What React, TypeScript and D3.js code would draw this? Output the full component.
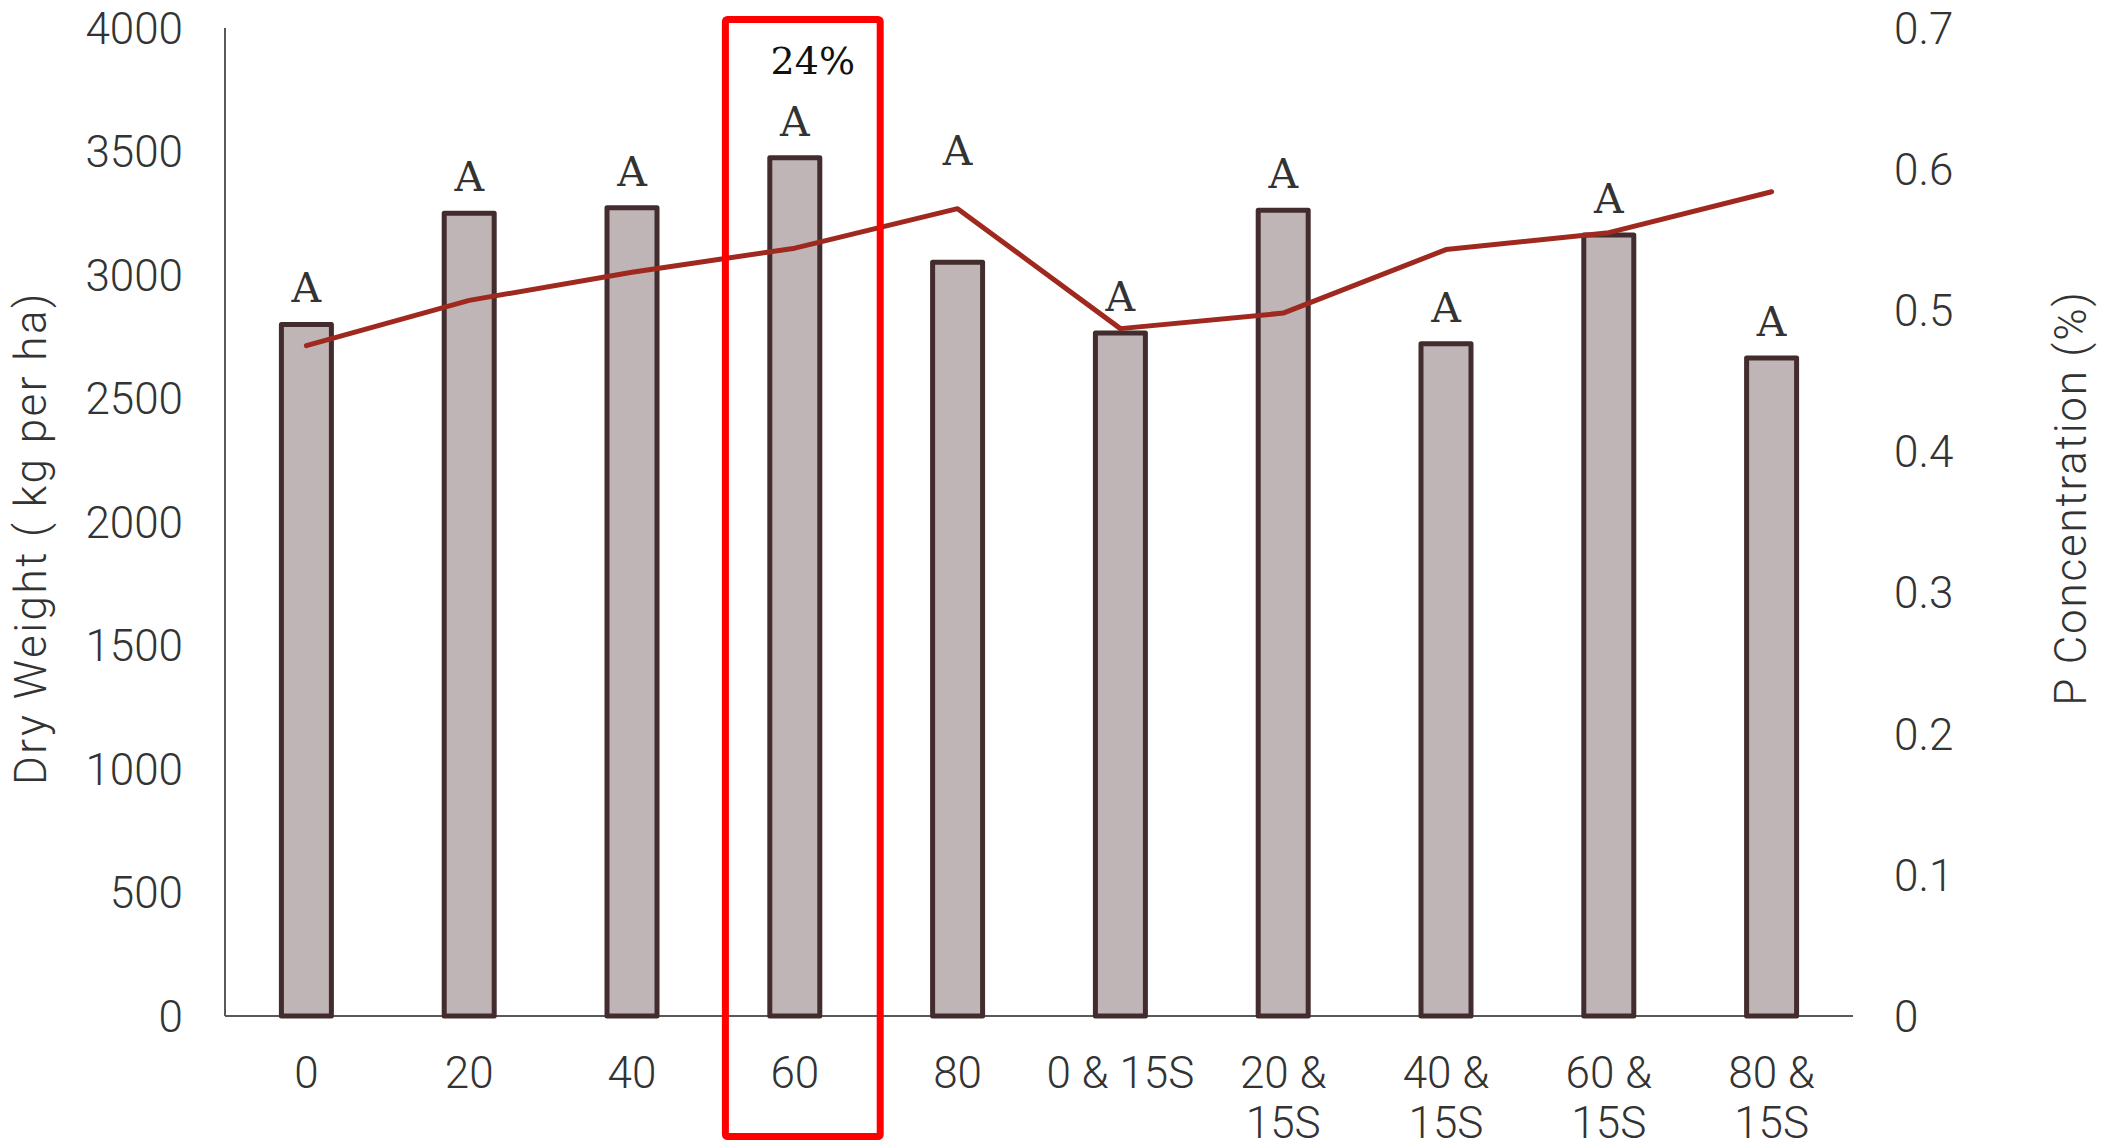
import React from "react";
import * as d3 from "d3";

// Treatments (kg P per ha, with/without 15 kg S)
const categories: string[][] = [
  ["0"], ["20"], ["40"], ["60"], ["80"],
  ["0 & 15S"], ["20 &", "15S"], ["40 &", "15S"], ["60 &", "15S"], ["80 &", "15S"],
];
const categoryKeys = categories.map((c) => c.join(" "));

// Dry weight (kg per ha), bars on the left axis
const dryWeight = [2800, 3250, 3272, 3475, 3052, 2765, 3262, 2722, 3162, 2664];

// P concentration (%), line on the right axis
const pConcentration = [0.475, 0.507, 0.527, 0.544, 0.572, 0.487, 0.498, 0.543, 0.555, 0.584];

// Significance letters and the value each letter sits above
const letters = ["A", "A", "A", "A", "A", "A", "A", "A", "A", "A"];
const letterAnchor = [2800, 3250, 3272, 3475, 3356, 2765, 3262, 2722, 3162, 2664];

const leftTicks = [0, 500, 1000, 1500, 2000, 2500, 3000, 3500, 4000];
const rightTicks = [0, 0.1, 0.2, 0.3, 0.4, 0.5, 0.6, 0.7];

const highlightKey = "60";
const highlightLabel = "24%";

const W = 2113;
const H = 1148;
const margin = { left: 225, right: 260, top: 28, bottom: 132 };

export default function App() {
  const x0 = margin.left;
  const x1 = W - margin.right;
  const yTop = margin.top;
  const yBot = H - margin.bottom;

  const x = d3.scaleBand<string>().domain(categoryKeys).range([x0, x1]).padding(0);
  const yL = d3.scaleLinear().domain([0, 4000]).range([yBot, yTop]);
  const yR = d3.scaleLinear().domain([0, 0.7]).range([yBot, yTop]);
  const cx = (i: number) => (x(categoryKeys[i]) as number) + x.bandwidth() / 2;

  const barW = 50;
  const linePath = d3
    .line<number>()
    .x((_, i) => cx(i))
    .y((d) => yR(d))(pConcentration) as string;

  const tickFont = "Roboto, 'DejaVu Sans', sans-serif";
  const slabFont = "'DejaVu Serif', serif";
  const tickColor = "#333333";

  const hIdx = categoryKeys.indexOf(highlightKey);
  const hx = x(categoryKeys[hIdx]) as number;
  const boxLeft = hx + 12;
  const boxRight = hx + x.bandwidth() + 4;

  return (
    <div style={{ position: "fixed", left: 0, top: 0 }}>
      <svg width={W} height={H} style={{ display: "block", background: "#ffffff" }}>
        {/* axes */}
        <line x1={x0} x2={x0} y1={yTop} y2={yBot} stroke="#595959" strokeWidth={2} />
        <line x1={x0} x2={x1} y1={yBot} y2={yBot} stroke="#595959" strokeWidth={2} />

        {/* left ticks */}
        {leftTicks.map((t) => (
          <text
            key={"l" + t}
            x={183}
            y={yL(t)}
            dy="0.36em"
            textAnchor="end"
            fontFamily={tickFont}
            fontWeight={300}
            fontSize={44}
            fill={tickColor}
          >
            {t}
          </text>
        ))}

        {/* right ticks */}
        {rightTicks.map((t) => (
          <text
            key={"r" + t}
            x={1894}
            y={yR(t)}
            dy="0.36em"
            textAnchor="start"
            fontFamily={tickFont}
            fontWeight={300}
            fontSize={44}
            fill={tickColor}
          >
            {t === 0 ? "0" : t.toFixed(1)}
          </text>
        ))}

        {/* category labels */}
        {categories.map((lines, i) => (
          <text
            key={"c" + i}
            x={cx(i)}
            y={1088}
            textAnchor="middle"
            fontFamily={tickFont}
            fontWeight={300}
            fontSize={44}
            fill={tickColor}
          >
            {lines.map((ln, j) => (
              <tspan key={j} x={cx(i)} dy={j === 0 ? 0 : 50}>
                {ln}
              </tspan>
            ))}
          </text>
        ))}

        {/* bars */}
        {dryWeight.map((v, i) => (
          <rect
            key={"b" + i}
            x={cx(i) - barW / 2}
            y={yL(v)}
            width={barW}
            height={yL(0) - yL(v)}
            fill="#bfb5b6"
            stroke="#432c2e"
            strokeWidth={5}
            strokeLinejoin="round"
          />
        ))}

        {/* P concentration line */}
        <path d={linePath} fill="none" stroke="#a0291f" strokeWidth={5} strokeLinecap="round" strokeLinejoin="round" />

        {/* significance letters */}
        {letters.map((l, i) => (
          <text
            key={"a" + i}
            x={cx(i)}
            y={yL(letterAnchor[i]) - 22}
            textAnchor="middle"
            fontFamily={slabFont}
            fontSize={41}
            fill="#333333"
          >
            {l}
          </text>
        ))}

        {/* highlighted treatment */}
        <rect
          x={boxLeft}
          y={19.5}
          width={boxRight - boxLeft}
          height={1136.5 - 19.5}
          fill="none"
          stroke="#ff0000"
          strokeWidth={7}
          rx={2}
        />
        <text
          x={(boxLeft + boxRight) / 2 + 10}
          y={74}
          textAnchor="middle"
          fontFamily={slabFont}
          fontSize={38}
          fill="#111111"
        >
          {highlightLabel}
        </text>

        {/* axis titles */}
        <text
          transform={`translate(46, ${(yTop + yBot) / 2 + 16}) rotate(-90)`}
          textAnchor="middle"
          fontFamily={tickFont}
          fontWeight={300}
          fontSize={44}
          letterSpacing={2.5}
          fill={tickColor}
        >
          Dry Weight ( kg per ha)
        </text>
        <text
          transform={`translate(2086, ${498}) rotate(-90)`}
          textAnchor="middle"
          fontFamily={tickFont}
          fontWeight={300}
          fontSize={44}
          letterSpacing={1.8}
          fill={tickColor}
        >
          P Concentration (%)
        </text>
      </svg>
    </div>
  );
}
